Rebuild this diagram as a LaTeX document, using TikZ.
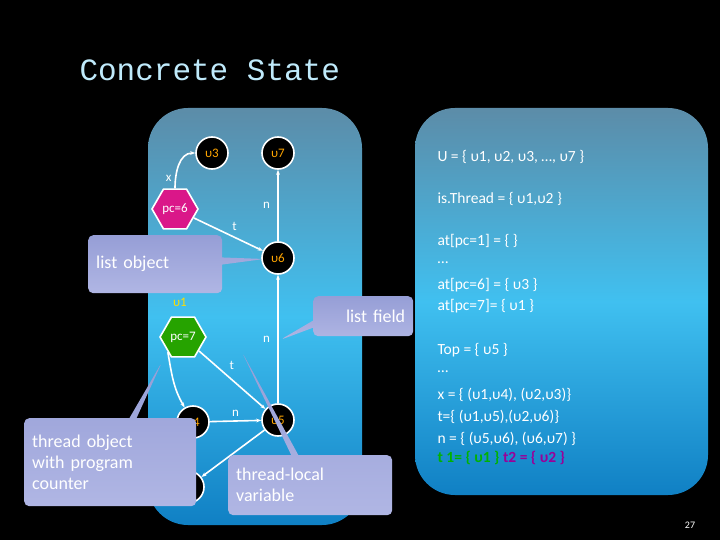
\documentclass[tikz,border=0pt]{standalone}
\usepackage{fontspec}
\setmainfont{Carlito}
\setmonofont{Liberation Mono}
\usetikzlibrary{shapes.geometric,shapes.callouts,arrows.meta}
\definecolor{paneltop}{RGB}{92,140,168}
\definecolor{panelmid}{RGB}{64,192,240}
\definecolor{panelbot}{RGB}{16,128,196}
\definecolor{notetop}{RGB}{150,158,214}
\definecolor{notebot}{RGB}{176,182,228}
\tikzset{
  obj/.style={circle, fill=black, draw=white, line width=1.6pt, minimum size=32pt, inner sep=0pt,
    text=orange!70!yellow, font=\fontsize{13}{13}\selectfont},
  thr/.style={regular polygon, regular polygon sides=6, draw=white, line width=1.6pt, minimum size=46pt,
    inner sep=0pt, text=white, font=\fontsize{13}{13}\selectfont},
  edge/.style={draw=white, line width=1.6pt, -{Stealth[length=5pt]}},
  lab/.style={text=white, font=\fontsize{13}{13}\selectfont},
  note/.style={rectangle callout, rounded corners=5pt, top color=notetop, bottom color=notebot,
    text=white, font=\fontsize{18}{21}\selectfont, align=left, inner sep=8pt},
  panel/.style={rounded corners=40pt, top color=paneltop, bottom color=panelbot, middle color=panelmid}
}
\begin{document}
\begin{tikzpicture}[x=1pt,y=-1pt]
\useasboundingbox[fill=black] (0,0) rectangle (720,540);
\node[anchor=west, font=\ttfamily\fontsize{31}{31}\selectfont, text=cyan!25!white] (title) at (76,70) {Concrete State};
% panels
\fill[panel] (148,108) rectangle (362,525);
\fill[panel] (415,108) rectangle (708,495);
% heap graph
\node[obj] (u3) at (212,153) {υ3};
\node[obj] (u7) at (278,153) {υ7};
\node[thr, fill=magenta!90!black] (pc6) at (175,209) {pc=6};
\node[obj] (u6) at (278,258) {υ6};
\node[text=yellow!80!orange, font=\fontsize{13}{13}\selectfont] (u1) at (180,302) {υ1};
\node[thr, fill=green!55!black!80!lime] (pc7) at (183,337) {pc=7};
\node[obj] (u4) at (193,422) {υ4};
\node[obj] (u5) at (278,420) {υ5};
\node[obj] (u2) at (188,487) {υ2};
\draw[edge] (pc6.north) to[out=90,in=180] node[lab, pos=0.2, left] {x} (u3);
\draw[edge] (pc6) -- node[lab, pos=0.5, above right] {t} (u6);
\draw[edge] (u6) -- node[lab, left=4pt] {n} (u7);
\draw[edge] (u5) -- node[lab, left=4pt] {n} (u6);
\draw[edge] (pc7) -- node[lab, pos=0.4, above right] {t} (u5);
\draw[edge] (u4) -- node[lab, above] {n} (u5);
\draw[edge] (pc7.south west) to[out=-80,in=120] (u4);
\draw[edge] (u5) -- (u2);
% callouts
\node[note, text width=118pt, minimum height=58pt, anchor=north west, callout absolute pointer={(264,259)}] (lobj) at (88,235) {list object\\[8pt]};
\node[note, text width=84pt, minimum height=40pt, anchor=north west, callout absolute pointer={(280,340)}] (lfld) at (313,296) {\hfill list field};
\node[note, text width=156pt, minimum height=88pt, anchor=north west, callout absolute pointer={(162,362)}] (tobj) at (24,418) {thread object\\with program\\counter};
\node[note, text width=148pt, minimum height=60pt, anchor=north west, callout absolute pointer={(242,352)}] (tloc) at (228,455) {thread-local\\variable};
% sets
\begin{scope}[every node/.style={anchor=west, text=white, font=\fontsize{15.5}{15.5}\selectfont}]
\node (s1) at (434,157) {U = \{ υ1, υ2, υ3, …, υ7 \}};
\node (s2) at (434,199) {is.Thread = \{ υ1,υ2 \}};
\node (s3) at (434,241) {at[pc=1] = \{ \}};
\node (s4) at (434,263) {…};
\node (s5) at (434,285) {at[pc=6] = \{ υ3 \}};
\node (s6) at (434,306) {at[pc=7]= \{ υ1 \}};
\node (s7) at (434,350) {Top = \{ υ5 \}};
\node (s8) at (434,372) {…};
\node (s9) at (434,395) {x = \{ (υ1,υ4), (υ2,υ3)\}};
\node (s10) at (434,417) {t=\{ (υ1,υ5),(υ2,υ6)\}};
\node (s11) at (434,439) {n = \{ (υ5,υ6), (υ6,υ7) \}};
\node (s12) at (434,458) {\bfseries\textcolor{green!70!black}{t 1= \{ υ1 \}} \textcolor{violet!80!magenta}{t2 = \{ υ2 \}}};
\end{scope}
\node[text=white, font=\fontsize{10}{10}\selectfont] (pg) at (690,525) {27};
\end{tikzpicture}
\end{document}
